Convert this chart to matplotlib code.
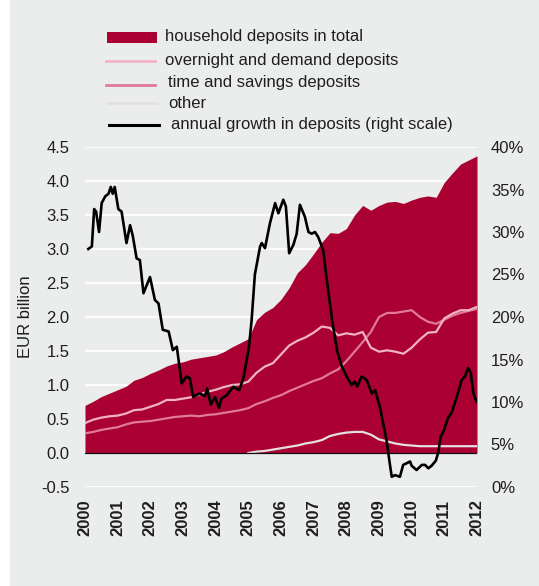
import numpy as np
import matplotlib
matplotlib.use("Agg")
import matplotlib.pyplot as plt
from matplotlib.patches import Rectangle
from matplotlib.lines import Line2D

plt.rcParams['font.family'] = ['Liberation Sans', 'DejaVu Sans']

# ---------------- data (quarterly, 2000.00 .. 2012.00) ----------------
quarters = [2000 + 0.25 * k for k in range(49)]

total = [0.70, 0.76, 0.83, 0.88, 0.93, 0.98, 1.07, 1.11, 1.17, 1.22, 1.28, 1.32,
         1.34, 1.38, 1.40, 1.42, 1.44, 1.49, 1.56, 1.62, 1.68, 1.96, 2.07, 2.14,
         2.26, 2.43, 2.65, 2.77, 2.93, 3.10, 3.24, 3.23, 3.30, 3.50, 3.64, 3.57,
         3.64, 3.69, 3.70, 3.67, 3.72, 3.76, 3.78, 3.76, 3.98, 4.12, 4.25, 4.31,
         4.37]

overnight = [0.44, 0.49, 0.52, 0.54, 0.55, 0.58, 0.63, 0.64, 0.68, 0.72, 0.78, 0.78,
             0.80, 0.82, 0.86, 0.90, 0.93, 0.97, 1.00, 1.01, 1.05, 1.18, 1.27, 1.32,
             1.45, 1.58, 1.65, 1.70, 1.77, 1.86, 1.84, 1.73, 1.76, 1.74, 1.78, 1.55,
             1.49, 1.51, 1.49, 1.46, 1.55, 1.67, 1.77, 1.78, 1.98, 2.05, 2.10, 2.10,
             2.15]

time_savings = [0.29, 0.31, 0.34, 0.36, 0.38, 0.42, 0.45, 0.46, 0.47, 0.49, 0.51, 0.53,
                0.54, 0.55, 0.54, 0.56, 0.57, 0.59, 0.61, 0.63, 0.66, 0.72, 0.76, 0.81,
                0.85, 0.91, 0.96, 1.01, 1.06, 1.10, 1.17, 1.23, 1.35, 1.49, 1.63, 1.78,
                2.00, 2.06, 2.06, 2.08, 2.10, 2.00, 1.93, 1.90, 1.96, 2.02, 2.06, 2.09,
                2.12]

nan = float('nan')
other = [nan] * 20 + [0.00, 0.02, 0.03, 0.05, 0.07, 0.09, 0.11, 0.14, 0.16, 0.19,
                      0.25, 0.28, 0.30, 0.31, 0.31, 0.27, 0.20, 0.17, 0.14, 0.12,
                      0.11, 0.10, 0.10, 0.10, 0.10, 0.10, 0.10, 0.10, 0.10]

growth_t = [2000.10, 2000.21, 2000.28, 2000.34, 2000.43, 2000.51, 2000.62, 2000.72,
            2000.79, 2000.85, 2000.91, 2001.02, 2001.12, 2001.27, 2001.38, 2001.46,
            2001.58, 2001.68, 2001.79, 2001.99, 2002.14, 2002.25, 2002.38, 2002.56,
            2002.69, 2002.81, 2002.96, 2003.11, 2003.21, 2003.31, 2003.45, 2003.52,
            2003.67, 2003.74, 2003.85, 2003.98, 2004.10, 2004.18, 2004.34, 2004.54,
            2004.72, 2004.85, 2005.02, 2005.10, 2005.20, 2005.36, 2005.41, 2005.51,
            2005.66, 2005.82, 2005.92, 2006.07, 2006.15, 2006.25, 2006.38, 2006.48,
            2006.58, 2006.73, 2006.84, 2006.94, 2007.04, 2007.14, 2007.29, 2007.40,
            2007.57, 2007.72, 2007.86, 2008.01, 2008.16, 2008.26, 2008.33, 2008.47,
            2008.62, 2008.78, 2008.88, 2009.03, 2009.10, 2009.23, 2009.34, 2009.39,
            2009.49, 2009.64, 2009.74, 2009.85, 2009.95, 2010.00, 2010.15, 2010.31,
            2010.41, 2010.51, 2010.61, 2010.74, 2010.81, 2010.89, 2010.99, 2011.12,
            2011.22, 2011.38, 2011.53, 2011.63, 2011.73, 2011.81, 2011.89, 2011.99]
growth = [28.0, 28.3, 32.7, 32.4, 30.0, 33.4, 34.2, 34.5,
          35.3, 34.5, 35.3, 32.7, 32.4, 28.7, 30.8, 29.6,
          26.9, 26.7, 22.8, 24.7, 22.0, 21.6, 18.5, 18.3,
          16.1, 16.5, 12.2, 13.0, 12.8, 10.6, 10.9, 11.0,
          10.7, 11.6, 9.7, 10.6, 9.3, 10.4, 10.8, 11.8,
          11.4, 12.8, 16.5, 19.6, 25.0, 28.3, 28.7, 28.1,
          31.0, 33.4, 32.2, 33.8, 33.0, 27.5, 28.5, 29.8,
          33.2, 31.8, 30.0, 29.8, 30.0, 29.4, 27.9, 24.4,
          19.5, 16.0, 14.2, 13.0, 12.0, 12.4, 11.8, 13.0,
          12.6, 11.0, 11.4, 9.4, 8.0, 5.5, 2.5, 1.2,
          1.4, 1.2, 2.6, 2.8, 3.0, 2.5, 2.0, 2.6,
          2.6, 2.2, 2.5, 3.1, 4.0, 5.9, 6.7, 8.2,
          8.7, 10.6, 12.6, 13.0, 14.0, 13.4, 11.0, 10.0]

years = list(range(2000, 2013))
left_ticks = [-0.5, 0.0, 0.5, 1.0, 1.5, 2.0, 2.5, 3.0, 3.5, 4.0, 4.5]
right_ticks = [0, 5, 10, 15, 20, 25, 30, 35, 40]

labels = ["household deposits in total", "overnight and demand deposits",
          "time and savings deposits", "other",
          "annual growth in deposits (right scale)"]

# ---------------- style ----------------
BG = "#ebecec"
RED = "#aa0032"
C_OVER = "#f0b3c3"
C_TIME = "#e07a98"
C_OTHER = "#e4e0e1"
TXT = "#1e1e1e"
FS = 12

W, H = 539, 586
fig = plt.figure(figsize=(W / 100, H / 100), dpi=100, facecolor="white")
fig.patches.append(Rectangle((10 / W, 0), 1 - 10 / W, 1, transform=fig.transFigure,
                             facecolor=BG, edgecolor="none", zorder=-10))

x0, x1, yt, yb = 85, 477, 147, 487
ax = fig.add_axes([x0 / W, 1 - yb / H, (x1 - x0) / W, (yb - yt) / H])
ax.set_facecolor(BG)
ax.set_xlim(2000, 2012)
ax.set_ylim(-0.5, 4.5)
for s in ax.spines.values():
    s.set_visible(False)

for v in left_ticks:
    ax.axhline(v, color="white", lw=1.3, zorder=0)

ax.fill_between(quarters, 0, total, color=RED, lw=0, zorder=1)
ax.plot(quarters, other, color=C_OTHER, lw=1.6, zorder=2)
ax.plot(quarters, time_savings, color=C_TIME, lw=1.6, zorder=3)
ax.plot(quarters, overnight, color=C_OVER, lw=1.6, zorder=3)
ax.axhline(0, color="#111111", lw=0.9, zorder=4)

ax.set_xticks(years)
ax.set_xticklabels([str(y) for y in years], rotation=90, fontweight="bold",
                   fontsize=FS, color=TXT,
                   family=['Liberation Sans Narrow', 'Liberation Sans', 'DejaVu Sans'])
ax.set_yticks(left_ticks)
ax.set_yticklabels([f"{v:.1f}" for v in left_ticks], fontsize=FS, color=TXT)
ax.tick_params(axis="both", length=0)
ax.tick_params(axis="y", pad=11)
ax.tick_params(axis="x", pad=9)
ax.set_ylabel("EUR billion", fontsize=FS, color=TXT)
ax.yaxis.set_label_coords(-(x0 - 33) / (x1 - x0), 0.5)

ax2 = ax.twinx()
ax2.set_ylim(0, 40)
ax2.plot(growth_t, growth, color="#000000", lw=1.9, zorder=5)
ax2.set_yticks(right_ticks)
ax2.set_yticklabels([f"{v}%" for v in right_ticks], fontsize=FS, color=TXT)
ax2.tick_params(axis="y", length=0, pad=10)
for s in ax2.spines.values():
    s.set_visible(False)

# ---------------- legend (manual, figure coords in px) ----------------
def fx(px):
    return px / W

def fy(py):
    return 1 - py / H

fig.patches.append(Rectangle((fx(106.5), fy(43)), (157 - 106.5) / W, 11 / H,
                             transform=fig.transFigure, facecolor=RED, edgecolor="none"))
leg_lines = [(C_OVER, 61, 106, 155, 2.0), (C_TIME, 84.5, 106, 155, 2.0),
             (C_OTHER, 103, 107.5, 157, 2.0), ("#000000", 125, 108.5, 159, 2.2)]
for col, yy, xa, xb, lw in leg_lines:
    fig.lines.append(Line2D([fx(xa), fx(xb)], [fy(yy), fy(yy)], transform=fig.transFigure,
                            color=col, lw=lw))
text_pos = [(165, 37), (165, 60), (168, 83), (168, 103), (171, 125)]
for lab, (tx, ty) in zip(labels, text_pos):
    fig.text(fx(tx), fy(ty), lab, fontsize=FS, color=TXT, va="center", ha="left")

fig.savefig("out.png", dpi=100, facecolor=fig.get_facecolor())
